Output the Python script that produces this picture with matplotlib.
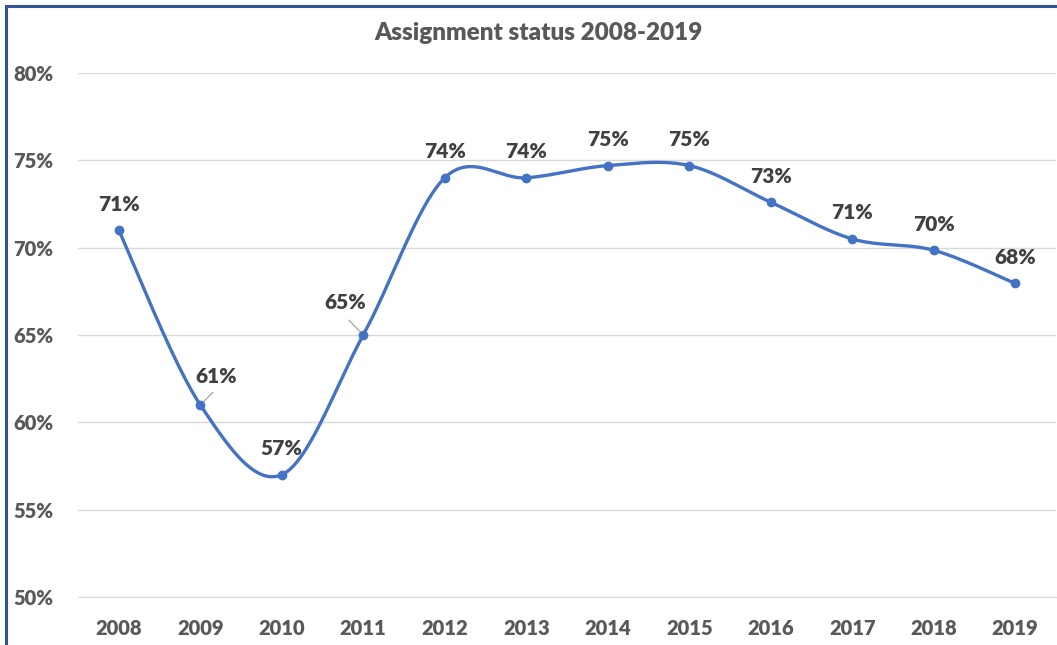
import numpy as np
import matplotlib
matplotlib.use("Agg")
import matplotlib.pyplot as plt
from matplotlib.patches import Rectangle

years = ["2008", "2009", "2010", "2011", "2012", "2013", "2014", "2015", "2016", "2017", "2018", "2019"]
values = [71.0, 61.0, 57.0, 65.0, 74.0, 74.0, 74.7, 74.7, 72.6, 70.5, 69.85, 67.95]
labels = ["71%", "61%", "57%", "65%", "74%", "74%", "75%", "75%", "73%", "71%", "70%", "68%"]
yticks = [50, 55, 60, 65, 70, 75, 80]
title = "Assignment status 2008-2019"

W, H = 1057, 645
fig = plt.figure(figsize=(W / 100, H / 100), dpi=100)
ax = fig.add_axes([78 / W, 1 - 597 / H, (1056 - 78) / W, (597 - 73) / H])

line_c = "#4472C4"
text_c = "#595959"
lab_c = "#404040"
font = "Lato"
wt = "heavy"

x = np.arange(len(values), dtype=float)
y = np.array(values)

# Excel-style Bezier smoothing between the data points
P = np.column_stack([x, y])
Pext = np.vstack([P[0], P, P[-1]])
curve = []
t = np.linspace(0, 1, 40)[:, None]
for i in range(len(P) - 1):
    p0 = Pext[i + 1]
    p3 = Pext[i + 2]
    c1 = p0 + (Pext[i + 2] - Pext[i]) / 6
    c2 = p3 - (Pext[i + 3] - Pext[i + 1]) / 6
    seg = (1 - t) ** 3 * p0 + 3 * (1 - t) ** 2 * t * c1 + 3 * (1 - t) * t ** 2 * c2 + t ** 3 * p3
    curve.append(seg)
curve = np.vstack(curve)
ax.plot(curve[:, 0], curve[:, 1], color=line_c, lw=2.4, solid_capstyle="round", zorder=3)
ax.plot(x, y, "o", color=line_c, ms=6, zorder=4)

ax.set_xlim(-0.5, len(values) - 0.5)
ax.set_ylim(50, 80)
ax.set_yticks(yticks)
ax.set_yticklabels([f"{v}%" for v in yticks])
ax.set_xticks(x)
ax.set_xticklabels(years)
ax.grid(axis="y", color="#D9D9D9", lw=1)
ax.set_axisbelow(True)
for s in ["top", "right", "left"]:
    ax.spines[s].set_visible(False)
ax.spines["bottom"].set_color("#D9D9D9")
ax.tick_params(axis="both", length=0, colors=text_c)
ax.tick_params(axis="y", pad=18)
ax.tick_params(axis="x", pad=16)
for lbl in ax.get_xticklabels() + ax.get_yticklabels():
    lbl.set_fontfamily(font)
    lbl.set_fontweight(wt)
    lbl.set_fontsize(14.5)

# data labels (offsets in pixels)
offsets = {1: (16, 28), 3: (-18, 33)}
for i, (xi, yi, lb) in enumerate(zip(x, y, labels)):
    dx, dy = offsets.get(i, (0, 26))
    ax.annotate(lb, (xi, yi), xytext=(dx, dy), textcoords="offset pixels",
                ha="center", va="center", fontsize=15, fontweight=wt,
                fontfamily=font, color=lab_c, zorder=5)
    if i in offsets:
        ax.annotate("", (xi, yi), xytext=(dx * 0.8, dy * 0.45), textcoords="offset pixels",
                    arrowprops=dict(arrowstyle="-", color="#A6A6A6", lw=0.9,
                                    shrinkA=0, shrinkB=2))

fig.text(538 / W, 1 - 33 / H, title, ha="center", va="center", fontsize=17.5,
         fontweight=wt, fontfamily=font, color=text_c)

fig.patches.append(Rectangle((6 / W, -0.1), 1.2, 1 - 5.5 / H + 0.1, transform=fig.transFigure,
                             fill=False, edgecolor="#2F5597", lw=2.2))

fig.savefig("out.png", dpi=100)
